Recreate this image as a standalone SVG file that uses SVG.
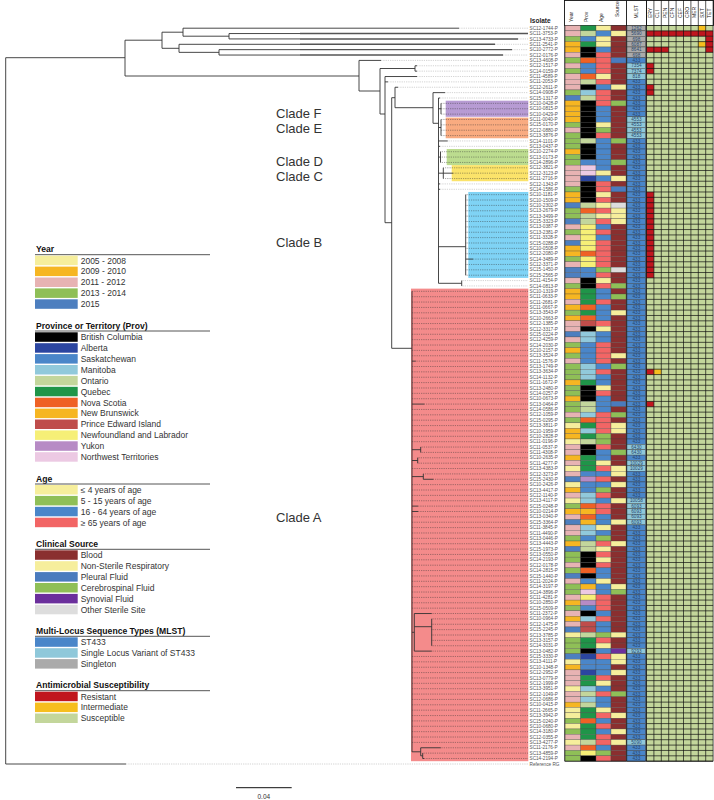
<svg xmlns="http://www.w3.org/2000/svg" xmlns:xlink="http://www.w3.org/1999/xlink" width="714" height="800" viewBox="0 0 714 800">
<style>
.lb{font-family:"Liberation Sans",Arial,sans-serif;font-size:4.7px;fill:#555}
.mt{font-family:"Liberation Sans",Arial,sans-serif;font-size:4.6px;fill:#27456b;text-anchor:middle}
.hd{font-family:"Liberation Sans",Arial,sans-serif;font-size:5px;fill:#222}
.lt{font-family:"Liberation Sans",Arial,sans-serif;font-size:8.6px;font-weight:bold;fill:#111}
.li{font-family:"Liberation Sans",Arial,sans-serif;font-size:8.5px;fill:#333}
.cl{font-family:"Liberation Sans",Arial,sans-serif;font-size:13px;fill:#333}
.t{fill:none;stroke:#333;stroke-width:0.9}
.tk{fill:none;stroke:#555;stroke-width:1.4}
.dg{fill:none;stroke:#999;stroke-width:0.6;stroke-dasharray:0.7 1.1}
.dd{fill:none;stroke:#333;stroke-width:0.6;stroke-dasharray:0.7 1.1}
.ul{fill:none;stroke:#555;stroke-width:1}
.y1{fill:#f6ee9c}.y2{fill:#f6b622}.y3{fill:#e7b3b3}.y4{fill:#8fbf57}.y5{fill:#4d7fbf}
.pBC{fill:#000}.pAB{fill:#2b45a0}.pSK{fill:#4a86c9}.pMB{fill:#91c9db}.pON{fill:#c3d69c}.pQC{fill:#1f9549}.pNS{fill:#ef6125}.pNB{fill:#f6b622}.pPE{fill:#bf4d4b}.pNL{fill:#f6ef77}.pYT{fill:#b78bc5}.pNT{fill:#ecc9e3}
.a1{fill:#f6ee9c}.a2{fill:#8fbf57}.a3{fill:#4a86c9}.a4{fill:#f26565}
.sB{fill:#8a2f2f}.sR{fill:#f6ee9c}.sP{fill:#4a7bbe}.sC{fill:#8fbf57}.sS{fill:#6b2f9c}.sO{fill:#dddddd}
.m1{fill:#4a86c9}.m2{fill:#8fc8da}.m3{fill:#aaaaaa}
.rR{fill:#c0161e}.rI{fill:#f6be1e}.rS{fill:#c3d69b}
</style>
<defs>
<rect id="cY" x="565" y="0" width="15.5" height="5.37" stroke="#444" stroke-width="0.3"/>
<rect id="cP" x="580.5" y="0" width="15.5" height="5.37" stroke="#444" stroke-width="0.3"/>
<rect id="cA" x="596" y="0" width="15" height="5.37" stroke="#444" stroke-width="0.3"/>
<rect id="cS" x="611" y="0" width="15" height="5.37" stroke="#444" stroke-width="0.3"/>
<rect id="cM" x="627" y="0" width="18.8" height="5.37" stroke="#333" stroke-width="0.4"/>
</defs>
<rect width="714" height="800" fill="#fff"/>

<g id="clade-highlights">
<rect x="445.7" y="100.68" width="82.6" height="16.11" fill="#b79bd3"/>
<rect x="445.7" y="117.6" width="82.6" height="20.67" fill="#f9ab80"/>
<rect x="446.7" y="149.01" width="81.6" height="16.11" fill="#bcdc8f"/>
<rect x="451.7" y="165.12" width="76.6" height="16.11" fill="#fbe36a"/>
<rect x="468.3" y="191.97" width="60" height="85.92" fill="#7fd3f5"/>
<rect x="411" y="288.63" width="117.3" height="472.56" fill="#f48b8b"/>
</g>

<g id="clade-labels">
<text class="cl" x="276" y="118">Clade F</text>
<text class="cl" x="276" y="133">Clade E</text>
<text class="cl" x="276" y="166">Clade D</text>
<text class="cl" x="276" y="181">Clade C</text>
<text class="cl" x="276" y="247">Clade B</text>
<text class="cl" x="276" y="521.5">Clade A</text>
</g>

<g id="connectors">
<path class="dg" d="M459 28.19H528M518 38.93H528M495 44.3H528M512 49.67H528M503 55.04H528M381 60.41H528M417 65.78H528M417 71.15H528M417 76.52H528M388 81.89H528M398 87.26H528M445 92.63H528M440 98H528M447.7 140.96H528M440 146.33H528M440 183.92H528M440 189.29H528M461.7 280.58H528M461.7 285.95H528M126 764H528"/>
<path class="dd" d="M441 103.37H528M441 108.74H528M441 114.11H528M441 119.48H528M441 124.85H528M441 130.22H528M441 135.59H528M440.5 151.7H528M440.5 157.07H528M440.5 162.44H528M443.3 167.81H528M453 173.18H528M443.3 178.55H528
M465.7 194.66H528M465.7 200.03H528M465.7 205.4H528M465.7 210.77H528M465.7 216.14H528M465.7 221.51H528M465.7 226.88H528M465.7 232.25H528M465.7 237.62H528M465.7 242.99H528M465.7 248.36H528M465.7 253.73H528M473 259.1H528M465.7 264.47H528M465.7 269.84H528M465.7 275.21H528
M412 291.32H528M412 296.69H528M412 302.06H528M412 307.43H528M412 312.8H528M412 318.17H528M412 323.54H528M412 328.91H528M412 334.28H528M412 339.65H528M412 345.02H528M412 350.39H528M412 355.76H528M415.7 361.13H528M412 366.5H528M412 371.87H528M412 377.24H528M412 382.61H528M412 387.98H528M412 393.35H528M412 398.72H528M424.3 404.09H528M412 409.46H528M412 414.83H528M412 420.2H528M412 425.57H528M412 430.94H528M412 436.31H528M412 441.68H528M420.7 447.05H528M420.7 452.42H528M417.7 457.79H528M417.7 463.16H528M412 468.53H528M423.3 473.9H528M433.3 479.27H528M412 484.64H528M412 490.01H528M412 495.38H528M412 500.75H528M418 506.12H528M418 511.49H528M412 516.86H528M412 522.23H528M412 527.6H528M412 532.97H528M412 538.34H528M412 543.71H528M412 549.08H528M412 554.45H528M412 559.82H528M412 565.19H528M412 570.56H528M412 575.93H528M412 581.3H528M412 586.67H528M412 592.04H528M412 597.41H528M412 602.78H528M412 608.15H528M431.7 613.52H528M431.7 618.89H528M431.7 624.26H528M431.7 629.63H528M431.7 635H528M431.7 640.37H528M431.7 645.74H528M431.7 651.11H528M412 656.48H528M412 661.85H528M412 667.22H528M412 672.59H528M412 677.96H528M412 683.33H528M412 688.7H528M412 694.07H528M412 699.44H528M412 704.81H528M412 710.18H528M412 715.55H528M412 720.92H528M412 726.29H528M412 731.66H528M412 737.03H528M412 742.4H528M440.7 747.77H528M422.7 753.14H528M424 758.51H528"/>
<path class="t" d="M5.7 57.7V764M5.7 57.7H125M5.7 764H126M125 40.2V76M125 40.2H162M125 76H359M162 32.2V48.3M162 32.2H183M162 48.3H179M183 28.19V36.2M183 28.19H459M183 36.2H229M229 33.56V38.93M229 33.56H300M229 38.93H300M179 44.3V52.35M179 44.3H300M179 52.35H219M219 49.67V55.04M219 49.67H300M219 55.04H300"/>
<path class="tk" d="M300 33.56H528M300 38.93H518M300 44.3H495M300 49.67H512M300 55.04H503"/>
<path class="t" d="M359 60.41V91M359 60.41H381M359 91H380M380 68.5V114M380 68.5H415M415 65.78V71.15M415 65.78H417M415 71.15H417M380 114H385M385 76.52V222.7M385 76.52H417M385 81.89H388M385 222.7H391.7M391.7 97.7V348.3M391.7 97.7H395M395 87.26V107.7M395 87.26H398M395 107.7H433M433 92.63V123.3M433 92.63H445M433 123.3H438.5M438.5 98V283.3M438.5 98H440M438.5 108.74H441M441 103.37V114.11M438.5 127.5H441M441 119.48V135.59M438.5 140.96H447.7M438.5 146.33H440M438.5 157.07H440.5M440.5 151.7V162.44M438.5 173.18H443.3M443.3 167.81V178.55M443.3 173.18H453M438.5 183.92H440M438.5 189.29H440M438.5 246.7H465.7M465.7 194.66V275.21M465.7 259.1H473M438.5 283.3H461.7M461.7 280.58V285.95"/>
<path class="t" d="M391.7 348.3H412M412 291.32V751.8M412 361.13H415.7M412 404.09H424.3M412 449.7H420.7M420.7 447.05V452.42M412 460.5H417.7M417.7 457.79V463.16M412 476.6H423.3M423.3 473.9V479.27M423.3 479.27H433.3M412 506.12H418M412 511.49H418M412 632.3H414.3M414.3 613.52V651.11M414.3 613.52H431.7M414.3 626.7H431.7M431.7 618.89V645.74M414.3 651.11H431.7M412 751.8H420.7M420.7 747.77V755.8M420.7 747.77H440.7M420.7 755.8H422.7M422.7 753.14V758.51M422.7 758.51H424"/>
</g>

<g id="header">
<rect x="564.5" y="0.5" width="149" height="25" fill="#fff" stroke="#111" stroke-width="0.9"/>
<path d="M626.5 0.5V25.5M646.5 0.5V25.5" stroke="#111" stroke-width="0.9"/>
<text style="font-family:'Liberation Sans',Arial,sans-serif;font-size:6.5px;font-weight:bold;fill:#222" x="530" y="23">Isolate</text>
<text class="hd" transform="translate(572.5,22) rotate(-90)">Year</text>
<text class="hd" transform="translate(588,22) rotate(-90)">Prov</text>
<text class="hd" transform="translate(603,22) rotate(-90)">Age</text>
<text class="hd" transform="translate(618.5,17) rotate(-90)">Source</text>
<text class="hd" transform="translate(638,18.5) rotate(-90)">MLST</text>
<text class="hd" transform="translate(652,18) rotate(-90)">ERY</text>
<text class="hd" transform="translate(659.4,18) rotate(-90)">CLI</text>
<text class="hd" transform="translate(666.8,18) rotate(-90)">PEN</text>
<text class="hd" transform="translate(674.2,18) rotate(-90)">CFN</text>
<text class="hd" transform="translate(681.6,18) rotate(-90)">CEF</text>
<text class="hd" transform="translate(689,18) rotate(-90)">CRO</text>
<text class="hd" transform="translate(696.4,18) rotate(-90)">MER</text>
<text class="hd" transform="translate(703.8,18) rotate(-90)">SXT</text>
<text class="hd" transform="translate(711.2,18) rotate(-90)">TET</text>
</g>

<g id="amr">
<rect class="rS" x="646.5" y="25.5" width="66.6" height="735.69"/>
<rect class="rI" x="698.3" y="25.5" width="7.4" height="5.37"/>
<rect class="rR" x="646.5" y="30.87" width="66.6" height="5.37"/>
<rect class="rR" x="705.7" y="36.24" width="7.4" height="16.11"/>
<rect class="rI" x="698.3" y="41.61" width="7.4" height="5.37"/>
<rect class="rR" x="646.5" y="46.98" width="22.2" height="5.37"/>
<rect class="rR" x="646.5" y="63.09" width="7.4" height="10.74"/>
<rect class="rR" x="646.5" y="84.57" width="7.4" height="10.74"/>
<rect class="rR" x="646.5" y="191.97" width="7.4" height="85.92"/>
<rect class="rR" x="646.5" y="369.18" width="7.4" height="5.37"/>
<rect class="rI" x="653.9" y="369.18" width="7.4" height="5.37"/>
<rect class="rR" x="646.5" y="401.4" width="7.4" height="5.37"/>
<path fill="none" stroke="#111" stroke-width="0.7" d="M646.5 0V761.19M653.9 0V761.19M661.3 0V761.19M668.7 0V761.19M676.1 0V761.19M683.5 0V761.19M690.9 0V761.19M698.3 0V761.19M705.7 0V761.19M713.1 0V761.19
M646.5 25.5H713.1M646.5 30.87H713.1M646.5 36.24H713.1M646.5 41.61H713.1M646.5 46.98H713.1M646.5 52.35H713.1M646.5 57.72H713.1M646.5 63.09H713.1M646.5 68.46H713.1M646.5 73.83H713.1M646.5 79.2H713.1M646.5 84.57H713.1M646.5 89.94H713.1M646.5 95.31H713.1M646.5 100.68H713.1M646.5 106.05H713.1M646.5 111.42H713.1M646.5 116.79H713.1M646.5 122.16H713.1M646.5 127.53H713.1M646.5 132.9H713.1M646.5 138.27H713.1M646.5 143.64H713.1M646.5 149.01H713.1M646.5 154.38H713.1M646.5 159.75H713.1M646.5 165.12H713.1M646.5 170.49H713.1M646.5 175.86H713.1M646.5 181.23H713.1M646.5 186.6H713.1M646.5 191.97H713.1M646.5 197.34H713.1M646.5 202.71H713.1M646.5 208.08H713.1M646.5 213.45H713.1M646.5 218.82H713.1M646.5 224.19H713.1M646.5 229.56H713.1M646.5 234.93H713.1M646.5 240.3H713.1M646.5 245.67H713.1M646.5 251.04H713.1M646.5 256.41H713.1M646.5 261.78H713.1M646.5 267.15H713.1M646.5 272.52H713.1M646.5 277.89H713.1M646.5 283.26H713.1M646.5 288.63H713.1M646.5 294H713.1M646.5 299.37H713.1M646.5 304.74H713.1M646.5 310.11H713.1M646.5 315.48H713.1M646.5 320.85H713.1M646.5 326.22H713.1M646.5 331.59H713.1M646.5 336.96H713.1M646.5 342.33H713.1M646.5 347.7H713.1M646.5 353.07H713.1M646.5 358.44H713.1M646.5 363.81H713.1M646.5 369.18H713.1M646.5 374.55H713.1M646.5 379.92H713.1M646.5 385.29H713.1M646.5 390.66H713.1M646.5 396.03H713.1M646.5 401.4H713.1M646.5 406.77H713.1M646.5 412.14H713.1M646.5 417.51H713.1M646.5 422.88H713.1M646.5 428.25H713.1M646.5 433.62H713.1M646.5 438.99H713.1M646.5 444.36H713.1M646.5 449.73H713.1M646.5 455.1H713.1M646.5 460.47H713.1M646.5 465.84H713.1M646.5 471.21H713.1M646.5 476.58H713.1M646.5 481.95H713.1M646.5 487.32H713.1M646.5 492.69H713.1M646.5 498.06H713.1M646.5 503.43H713.1M646.5 508.8H713.1M646.5 514.17H713.1M646.5 519.54H713.1M646.5 524.91H713.1M646.5 530.28H713.1M646.5 535.65H713.1M646.5 541.02H713.1M646.5 546.39H713.1M646.5 551.76H713.1M646.5 557.13H713.1M646.5 562.5H713.1M646.5 567.87H713.1M646.5 573.24H713.1M646.5 578.61H713.1M646.5 583.98H713.1M646.5 589.35H713.1M646.5 594.72H713.1M646.5 600.09H713.1M646.5 605.46H713.1M646.5 610.83H713.1M646.5 616.2H713.1M646.5 621.57H713.1M646.5 626.94H713.1M646.5 632.31H713.1M646.5 637.68H713.1M646.5 643.05H713.1M646.5 648.42H713.1M646.5 653.79H713.1M646.5 659.16H713.1M646.5 664.53H713.1M646.5 669.9H713.1M646.5 675.27H713.1M646.5 680.64H713.1M646.5 686.01H713.1M646.5 691.38H713.1M646.5 696.75H713.1M646.5 702.12H713.1M646.5 707.49H713.1M646.5 712.86H713.1M646.5 718.23H713.1M646.5 723.6H713.1M646.5 728.97H713.1M646.5 734.34H713.1M646.5 739.71H713.1M646.5 745.08H713.1M646.5 750.45H713.1M646.5 755.82H713.1M646.5 761.19H713.1"/>
</g>

<g id="isolates">
<g id="SC12-1744-P" transform="translate(0,25.5)"><use href="#cY" class="y3"/><use href="#cP" class="pQC"/><use href="#cA" class="a1"/><use href="#cS" class="sB"/><use href="#cM" class="m3"/><text class="mt" x="636.4" y="4.3">1262</text><text class="lb" x="529.5" y="4.3">SC12-1744-P</text></g>
<g id="SC11-3753-P" transform="translate(0,30.87)"><use href="#cY" class="y3"/><use href="#cP" class="pON"/><use href="#cA" class="a3"/><use href="#cS" class="sR"/><use href="#cM" class="m3"/><text class="mt" x="636.4" y="4.3">5690</text><text class="lb" x="529.5" y="4.3">SC11-3753-P</text></g>
<g id="SC13-4733-P" transform="translate(0,36.24)"><use href="#cY" class="y4"/><use href="#cP" class="pSK"/><use href="#cA" class="a1"/><use href="#cS" class="sB"/><use href="#cM" class="m3"/><text class="mt" x="636.4" y="4.3">698</text><text class="lb" x="529.5" y="4.3">SC13-4733-P</text></g>
<g id="SC11-2541-P" transform="translate(0,41.61)"><use href="#cY" class="y2"/><use href="#cP" class="pQC"/><use href="#cA" class="a1"/><use href="#cS" class="sB"/><use href="#cM" class="m3"/><text class="mt" x="636.4" y="4.3">6087</text><text class="lb" x="529.5" y="4.3">SC11-2541-P</text></g>
<g id="SC10-2772-P" transform="translate(0,46.98)"><use href="#cY" class="y2"/><use href="#cP" class="pBC"/><use href="#cA" class="a3"/><use href="#cS" class="sB"/><use href="#cM" class="m3"/><text class="mt" x="636.4" y="4.3">8641</text><text class="lb" x="529.5" y="4.3">SC10-2772-P</text></g>
<g id="SC12-0176-P" transform="translate(0,52.35)"><use href="#cY" class="y3"/><use href="#cP" class="pBC"/><use href="#cA" class="a4"/><use href="#cS" class="sB"/><use href="#cM" class="m3"/><text class="mt" x="636.4" y="4.3">698</text><text class="lb" x="529.5" y="4.3">SC12-0176-P</text></g>
<g id="SC13-4608-P" transform="translate(0,57.72)"><use href="#cY" class="y4"/><use href="#cP" class="pNS"/><use href="#cA" class="a4"/><use href="#cS" class="sP"/><use href="#cM" class="m1"/><text class="mt" x="636.4" y="4.3">433</text><text class="lb" x="529.5" y="4.3">SC13-4608-P</text></g>
<g id="SC12-1517-P" transform="translate(0,63.09)"><use href="#cY" class="y3"/><use href="#cP" class="pSK"/><use href="#cA" class="a4"/><use href="#cS" class="sB"/><use href="#cM" class="m2"/><text class="mt" x="636.4" y="4.3">7354</text><text class="lb" x="529.5" y="4.3">SC12-1517-P</text></g>
<g id="SC14-0159-P" transform="translate(0,68.46)"><use href="#cY" class="y4"/><use href="#cP" class="pSK"/><use href="#cA" class="a4"/><use href="#cS" class="sB"/><use href="#cM" class="m2"/><text class="mt" x="636.4" y="4.3">7374</text><text class="lb" x="529.5" y="4.3">SC14-0159-P</text></g>
<g id="SC11-4589-P" transform="translate(0,73.83)"><use href="#cY" class="y3"/><use href="#cP" class="pNS"/><use href="#cA" class="a1"/><use href="#cS" class="sB"/><use href="#cM" class="m2"/><text class="mt" x="636.4" y="4.3">818</text><text class="lb" x="529.5" y="4.3">SC11-4589-P</text></g>
<g id="SC11-2053-P" transform="translate(0,79.2)"><use href="#cY" class="y3"/><use href="#cP" class="pON"/><use href="#cA" class="a4"/><use href="#cS" class="sB"/><use href="#cM" class="m1"/><text class="mt" x="636.4" y="4.3">433</text><text class="lb" x="529.5" y="4.3">SC11-2053-P</text></g>
<g id="SC12-2611-P" transform="translate(0,84.57)"><use href="#cY" class="y3"/><use href="#cP" class="pBC"/><use href="#cA" class="a3"/><use href="#cS" class="sR"/><use href="#cM" class="m1"/><text class="mt" x="636.4" y="4.3">433</text><text class="lb" x="529.5" y="4.3">SC12-2611-P</text></g>
<g id="SC14-0908-P" transform="translate(0,89.94)"><use href="#cY" class="y4"/><use href="#cP" class="pMB"/><use href="#cA" class="a4"/><use href="#cS" class="sB"/><use href="#cM" class="m1"/><text class="mt" x="636.4" y="4.3">433</text><text class="lb" x="529.5" y="4.3">SC14-0908-P</text></g>
<g id="SC15-1317-P" transform="translate(0,95.31)"><use href="#cY" class="y5"/><use href="#cP" class="pON"/><use href="#cA" class="a4"/><use href="#cS" class="sB"/><use href="#cM" class="m1"/><text class="mt" x="636.4" y="4.3">433</text><text class="lb" x="529.5" y="4.3">SC15-1317-P</text></g>
<g id="SC10-0428-P" transform="translate(0,100.68)"><use href="#cY" class="y2"/><use href="#cP" class="pBC"/><use href="#cA" class="a4"/><use href="#cS" class="sC"/><use href="#cM" class="m1"/><text class="mt" x="636.4" y="4.3">433</text><text class="lb" x="529.5" y="4.3">SC10-0428-P</text></g>
<g id="SC10-0815-P" transform="translate(0,106.05)"><use href="#cY" class="y2"/><use href="#cP" class="pBC"/><use href="#cA" class="a3"/><use href="#cS" class="sB"/><use href="#cM" class="m1"/><text class="mt" x="636.4" y="4.3">433</text><text class="lb" x="529.5" y="4.3">SC10-0815-P</text></g>
<g id="SC10-0429-P" transform="translate(0,111.42)"><use href="#cY" class="y2"/><use href="#cP" class="pBC"/><use href="#cA" class="a3"/><use href="#cS" class="sB"/><use href="#cM" class="m1"/><text class="mt" x="636.4" y="4.3">433</text><text class="lb" x="529.5" y="4.3">SC10-0429-P</text></g>
<g id="SC11-0040-P" transform="translate(0,116.79)"><use href="#cY" class="y2"/><use href="#cP" class="pBC"/><use href="#cA" class="a3"/><use href="#cS" class="sB"/><use href="#cM" class="m2"/><text class="mt" x="636.4" y="4.3">4553</text><text class="lb" x="529.5" y="4.3">SC11-0040-P</text></g>
<g id="SC15-0170-P" transform="translate(0,122.16)"><use href="#cY" class="y4"/><use href="#cP" class="pBC"/><use href="#cA" class="a1"/><use href="#cS" class="sB"/><use href="#cM" class="m2"/><text class="mt" x="636.4" y="4.3">4553</text><text class="lb" x="529.5" y="4.3">SC15-0170-P</text></g>
<g id="SC12-0880-P" transform="translate(0,127.53)"><use href="#cY" class="y3"/><use href="#cP" class="pBC"/><use href="#cA" class="a2"/><use href="#cS" class="sB"/><use href="#cM" class="m2"/><text class="mt" x="636.4" y="4.3">4553</text><text class="lb" x="529.5" y="4.3">SC12-0880-P</text></g>
<g id="SC13-3876-P" transform="translate(0,132.9)"><use href="#cY" class="y4"/><use href="#cP" class="pBC"/><use href="#cA" class="a4"/><use href="#cS" class="sB"/><use href="#cM" class="m2"/><text class="mt" x="636.4" y="4.3">4553</text><text class="lb" x="529.5" y="4.3">SC13-3876-P</text></g>
<g id="SC14-1101-P" transform="translate(0,138.27)"><use href="#cY" class="y4"/><use href="#cP" class="pON"/><use href="#cA" class="a3"/><use href="#cS" class="sC"/><use href="#cM" class="m1"/><text class="mt" x="636.4" y="4.3">433</text><text class="lb" x="529.5" y="4.3">SC14-1101-P</text></g>
<g id="SC13-0437-P" transform="translate(0,143.64)"><use href="#cY" class="y4"/><use href="#cP" class="pBC"/><use href="#cA" class="a3"/><use href="#cS" class="sB"/><use href="#cM" class="m1"/><text class="mt" x="636.4" y="4.3">433</text><text class="lb" x="529.5" y="4.3">SC13-0437-P</text></g>
<g id="SC10-2274-P" transform="translate(0,149.01)"><use href="#cY" class="y2"/><use href="#cP" class="pBC"/><use href="#cA" class="a3"/><use href="#cS" class="sB"/><use href="#cM" class="m1"/><text class="mt" x="636.4" y="4.3">433</text><text class="lb" x="529.5" y="4.3">SC10-2274-P</text></g>
<g id="SC13-0173-P" transform="translate(0,154.38)"><use href="#cY" class="y4"/><use href="#cP" class="pBC"/><use href="#cA" class="a3"/><use href="#cS" class="sB"/><use href="#cM" class="m1"/><text class="mt" x="636.4" y="4.3">433</text><text class="lb" x="529.5" y="4.3">SC13-0173-P</text></g>
<g id="SC14-2896-P" transform="translate(0,159.75)"><use href="#cY" class="y4"/><use href="#cP" class="pSK"/><use href="#cA" class="a3"/><use href="#cS" class="sC"/><use href="#cM" class="m1"/><text class="mt" x="636.4" y="4.3">433</text><text class="lb" x="529.5" y="4.3">SC14-2896-P</text></g>
<g id="SC12-3821-P" transform="translate(0,165.12)"><use href="#cY" class="y3"/><use href="#cP" class="pNT"/><use href="#cA" class="a3"/><use href="#cS" class="sB"/><use href="#cM" class="m1"/><text class="mt" x="636.4" y="4.3">433</text><text class="lb" x="529.5" y="4.3">SC12-3821-P</text></g>
<g id="SC12-3123-P" transform="translate(0,170.49)"><use href="#cY" class="y3"/><use href="#cP" class="pNT"/><use href="#cA" class="a1"/><use href="#cS" class="sB"/><use href="#cM" class="m1"/><text class="mt" x="636.4" y="4.3">433</text><text class="lb" x="529.5" y="4.3">SC12-3123-P</text></g>
<g id="SC11-2716-P" transform="translate(0,175.86)"><use href="#cY" class="y3"/><use href="#cP" class="pAB"/><use href="#cA" class="a3"/><use href="#cS" class="sR"/><use href="#cM" class="m1"/><text class="mt" x="636.4" y="4.3">433</text><text class="lb" x="529.5" y="4.3">SC11-2716-P</text></g>
<g id="SC12-1343-P" transform="translate(0,181.23)"><use href="#cY" class="y3"/><use href="#cP" class="pBC"/><use href="#cA" class="a4"/><use href="#cS" class="sB"/><use href="#cM" class="m1"/><text class="mt" x="636.4" y="4.3">433</text><text class="lb" x="529.5" y="4.3">SC12-1343-P</text></g>
<g id="SC14-1586-P" transform="translate(0,186.6)"><use href="#cY" class="y4"/><use href="#cP" class="pBC"/><use href="#cA" class="a4"/><use href="#cS" class="sP"/><use href="#cM" class="m1"/><text class="mt" x="636.4" y="4.3">433</text><text class="lb" x="529.5" y="4.3">SC14-1586-P</text></g>
<g id="SC10-1181-P" transform="translate(0,191.97)"><use href="#cY" class="y2"/><use href="#cP" class="pBC"/><use href="#cA" class="a1"/><use href="#cS" class="sB"/><use href="#cM" class="m1"/><text class="mt" x="636.4" y="4.3">433</text><text class="lb" x="529.5" y="4.3">SC10-1181-P</text></g>
<g id="SC10-1509-P" transform="translate(0,197.34)"><use href="#cY" class="y2"/><use href="#cP" class="pBC"/><use href="#cA" class="a4"/><use href="#cS" class="sB"/><use href="#cM" class="m1"/><text class="mt" x="636.4" y="4.3">433</text><text class="lb" x="529.5" y="4.3">SC10-1509-P</text></g>
<g id="SC10-2302-P" transform="translate(0,202.71)"><use href="#cY" class="y5"/><use href="#cP" class="pON"/><use href="#cA" class="a1"/><use href="#cS" class="sO"/><use href="#cM" class="m1"/><text class="mt" x="636.4" y="4.3">433</text><text class="lb" x="529.5" y="4.3">SC10-2302-P</text></g>
<g id="SC13-2679-P" transform="translate(0,208.08)"><use href="#cY" class="y4"/><use href="#cP" class="pNS"/><use href="#cA" class="a4"/><use href="#cS" class="sR"/><use href="#cM" class="m1"/><text class="mt" x="636.4" y="4.3">433</text><text class="lb" x="529.5" y="4.3">SC13-2679-P</text></g>
<g id="SC13-3499-P" transform="translate(0,213.45)"><use href="#cY" class="y4"/><use href="#cP" class="pON"/><use href="#cA" class="a1"/><use href="#cS" class="sR"/><use href="#cM" class="m1"/><text class="mt" x="636.4" y="4.3">433</text><text class="lb" x="529.5" y="4.3">SC13-3499-P</text></g>
<g id="SC15-3323-P" transform="translate(0,218.82)"><use href="#cY" class="y5"/><use href="#cP" class="pON"/><use href="#cA" class="a4"/><use href="#cS" class="sR"/><use href="#cM" class="m1"/><text class="mt" x="636.4" y="4.3">433</text><text class="lb" x="529.5" y="4.3">SC15-3323-P</text></g>
<g id="SC13-0387-P" transform="translate(0,224.19)"><use href="#cY" class="y3"/><use href="#cP" class="pNL"/><use href="#cA" class="a3"/><use href="#cS" class="sB"/><use href="#cM" class="m1"/><text class="mt" x="636.4" y="4.3">433</text><text class="lb" x="529.5" y="4.3">SC13-0387-P</text></g>
<g id="SC13-2381-P" transform="translate(0,229.56)"><use href="#cY" class="y4"/><use href="#cP" class="pNL"/><use href="#cA" class="a4"/><use href="#cS" class="sB"/><use href="#cM" class="m1"/><text class="mt" x="636.4" y="4.3">433</text><text class="lb" x="529.5" y="4.3">SC13-2381-P</text></g>
<g id="SC11-3328-P" transform="translate(0,234.93)"><use href="#cY" class="y3"/><use href="#cP" class="pNL"/><use href="#cA" class="a3"/><use href="#cS" class="sB"/><use href="#cM" class="m1"/><text class="mt" x="636.4" y="4.3">433</text><text class="lb" x="529.5" y="4.3">SC11-3328-P</text></g>
<g id="SC15-0288-P" transform="translate(0,240.3)"><use href="#cY" class="y5"/><use href="#cP" class="pNL"/><use href="#cA" class="a4"/><use href="#cS" class="sB"/><use href="#cM" class="m1"/><text class="mt" x="636.4" y="4.3">433</text><text class="lb" x="529.5" y="4.3">SC15-0288-P</text></g>
<g id="SC10-0508-P" transform="translate(0,245.67)"><use href="#cY" class="y2"/><use href="#cP" class="pNL"/><use href="#cA" class="a4"/><use href="#cS" class="sB"/><use href="#cM" class="m1"/><text class="mt" x="636.4" y="4.3">433</text><text class="lb" x="529.5" y="4.3">SC10-0508-P</text></g>
<g id="SC12-2080-P" transform="translate(0,251.04)"><use href="#cY" class="y2"/><use href="#cP" class="pNS"/><use href="#cA" class="a4"/><use href="#cS" class="sB"/><use href="#cM" class="m1"/><text class="mt" x="636.4" y="4.3">433</text><text class="lb" x="529.5" y="4.3">SC12-2080-P</text></g>
<g id="SC14-3489-P" transform="translate(0,256.41)"><use href="#cY" class="y4"/><use href="#cP" class="pNL"/><use href="#cA" class="a4"/><use href="#cS" class="sB"/><use href="#cM" class="m1"/><text class="mt" x="636.4" y="4.3">433</text><text class="lb" x="529.5" y="4.3">SC14-3489-P</text></g>
<g id="SC12-3371-P" transform="translate(0,261.78)"><use href="#cY" class="y3"/><use href="#cP" class="pNL"/><use href="#cA" class="a4"/><use href="#cS" class="sB"/><use href="#cM" class="m1"/><text class="mt" x="636.4" y="4.3">433</text><text class="lb" x="529.5" y="4.3">SC12-3371-P</text></g>
<g id="SC15-1450-P" transform="translate(0,267.15)"><use href="#cY" class="y5"/><use href="#cP" class="pSK"/><use href="#cA" class="a2"/><use href="#cS" class="sO"/><use href="#cM" class="m1"/><text class="mt" x="636.4" y="4.3">433</text><text class="lb" x="529.5" y="4.3">SC15-1450-P</text></g>
<g id="SC15-2565-P" transform="translate(0,272.52)"><use href="#cY" class="y5"/><use href="#cP" class="pSK"/><use href="#cA" class="a4"/><use href="#cS" class="sB"/><use href="#cM" class="m1"/><text class="mt" x="636.4" y="4.3">433</text><text class="lb" x="529.5" y="4.3">SC15-2565-P</text></g>
<g id="SC11-4154-P" transform="translate(0,277.89)"><use href="#cY" class="y3"/><use href="#cP" class="pBC"/><use href="#cA" class="a1"/><use href="#cS" class="sB"/><use href="#cM" class="m1"/><text class="mt" x="636.4" y="4.3">433</text><text class="lb" x="529.5" y="4.3">SC11-4154-P</text></g>
<g id="SC14-0813-P" transform="translate(0,283.26)"><use href="#cY" class="y4"/><use href="#cP" class="pBC"/><use href="#cA" class="a4"/><use href="#cS" class="sC"/><use href="#cM" class="m1"/><text class="mt" x="636.4" y="4.3">433</text><text class="lb" x="529.5" y="4.3">SC14-0813-P</text></g>
<g id="SC10-1319-P" transform="translate(0,288.63)"><use href="#cY" class="y2"/><use href="#cP" class="pQC"/><use href="#cA" class="a3"/><use href="#cS" class="sB"/><use href="#cM" class="m1"/><text class="mt" x="636.4" y="4.3">433</text><text class="lb" x="529.5" y="4.3">SC10-1319-P</text></g>
<g id="SC11-0633-P" transform="translate(0,294)"><use href="#cY" class="y2"/><use href="#cP" class="pQC"/><use href="#cA" class="a3"/><use href="#cS" class="sC"/><use href="#cM" class="m1"/><text class="mt" x="636.4" y="4.3">433</text><text class="lb" x="529.5" y="4.3">SC11-0633-P</text></g>
<g id="SC11-2681-P" transform="translate(0,299.37)"><use href="#cY" class="y3"/><use href="#cP" class="pQC"/><use href="#cA" class="a4"/><use href="#cS" class="sB"/><use href="#cM" class="m1"/><text class="mt" x="636.4" y="4.3">433</text><text class="lb" x="529.5" y="4.3">SC11-2681-P</text></g>
<g id="SC11-0667-P" transform="translate(0,304.74)"><use href="#cY" class="y2"/><use href="#cP" class="pNS"/><use href="#cA" class="a3"/><use href="#cS" class="sB"/><use href="#cM" class="m1"/><text class="mt" x="636.4" y="4.3">433</text><text class="lb" x="529.5" y="4.3">SC11-0667-P</text></g>
<g id="SC13-3543-P" transform="translate(0,310.11)"><use href="#cY" class="y4"/><use href="#cP" class="pQC"/><use href="#cA" class="a3"/><use href="#cS" class="sR"/><use href="#cM" class="m1"/><text class="mt" x="636.4" y="4.3">433</text><text class="lb" x="529.5" y="4.3">SC13-3543-P</text></g>
<g id="SC10-2663-P" transform="translate(0,315.48)"><use href="#cY" class="y2"/><use href="#cP" class="pNS"/><use href="#cA" class="a3"/><use href="#cS" class="sB"/><use href="#cM" class="m1"/><text class="mt" x="636.4" y="4.3">433</text><text class="lb" x="529.5" y="4.3">SC10-2663-P</text></g>
<g id="SC12-1385-P" transform="translate(0,320.85)"><use href="#cY" class="y3"/><use href="#cP" class="pPE"/><use href="#cA" class="a4"/><use href="#cS" class="sB"/><use href="#cM" class="m1"/><text class="mt" x="636.4" y="4.3">433</text><text class="lb" x="529.5" y="4.3">SC12-1385-P</text></g>
<g id="SC12-3317-P" transform="translate(0,326.22)"><use href="#cY" class="y3"/><use href="#cP" class="pBC"/><use href="#cA" class="a1"/><use href="#cS" class="sB"/><use href="#cM" class="m1"/><text class="mt" x="636.4" y="4.3">433</text><text class="lb" x="529.5" y="4.3">SC12-3317-P</text></g>
<g id="SC15-0224-P" transform="translate(0,331.59)"><use href="#cY" class="y5"/><use href="#cP" class="pMB"/><use href="#cA" class="a3"/><use href="#cS" class="sB"/><use href="#cM" class="m1"/><text class="mt" x="636.4" y="4.3">433</text><text class="lb" x="529.5" y="4.3">SC15-0224-P</text></g>
<g id="SC12-4259-P" transform="translate(0,336.96)"><use href="#cY" class="y3"/><use href="#cP" class="pMB"/><use href="#cA" class="a3"/><use href="#cS" class="sB"/><use href="#cM" class="m1"/><text class="mt" x="636.4" y="4.3">433</text><text class="lb" x="529.5" y="4.3">SC12-4259-P</text></g>
<g id="SC14-2030-P" transform="translate(0,342.33)"><use href="#cY" class="y4"/><use href="#cP" class="pSK"/><use href="#cA" class="a4"/><use href="#cS" class="sB"/><use href="#cM" class="m1"/><text class="mt" x="636.4" y="4.3">433</text><text class="lb" x="529.5" y="4.3">SC14-2030-P</text></g>
<g id="SC10-2157-P" transform="translate(0,347.7)"><use href="#cY" class="y2"/><use href="#cP" class="pSK"/><use href="#cA" class="a4"/><use href="#cS" class="sB"/><use href="#cM" class="m1"/><text class="mt" x="636.4" y="4.3">433</text><text class="lb" x="529.5" y="4.3">SC10-2157-P</text></g>
<g id="SC13-3524-P" transform="translate(0,353.07)"><use href="#cY" class="y4"/><use href="#cP" class="pSK"/><use href="#cA" class="a4"/><use href="#cS" class="sR"/><use href="#cM" class="m1"/><text class="mt" x="636.4" y="4.3">433</text><text class="lb" x="529.5" y="4.3">SC13-3524-P</text></g>
<g id="SC11-1576-P" transform="translate(0,358.44)"><use href="#cY" class="y3"/><use href="#cP" class="pSK"/><use href="#cA" class="a4"/><use href="#cS" class="sB"/><use href="#cM" class="m1"/><text class="mt" x="636.4" y="4.3">433</text><text class="lb" x="529.5" y="4.3">SC11-1576-P</text></g>
<g id="SC13-1749-P" transform="translate(0,363.81)"><use href="#cY" class="y4"/><use href="#cP" class="pMB"/><use href="#cA" class="a3"/><use href="#cS" class="sC"/><use href="#cM" class="m1"/><text class="mt" x="636.4" y="4.3">433</text><text class="lb" x="529.5" y="4.3">SC13-1749-P</text></g>
<g id="SC13-3634-P" transform="translate(0,369.18)"><use href="#cY" class="y4"/><use href="#cP" class="pMB"/><use href="#cA" class="a4"/><use href="#cS" class="sB"/><use href="#cM" class="m1"/><text class="mt" x="636.4" y="4.3">433</text><text class="lb" x="529.5" y="4.3">SC13-3634-P</text></g>
<g id="SC14-1132-P" transform="translate(0,374.55)"><use href="#cY" class="y4"/><use href="#cP" class="pMB"/><use href="#cA" class="a3"/><use href="#cS" class="sB"/><use href="#cM" class="m1"/><text class="mt" x="636.4" y="4.3">433</text><text class="lb" x="529.5" y="4.3">SC14-1132-P</text></g>
<g id="SC11-1672-P" transform="translate(0,379.92)"><use href="#cY" class="y2"/><use href="#cP" class="pQC"/><use href="#cA" class="a3"/><use href="#cS" class="sB"/><use href="#cM" class="m1"/><text class="mt" x="636.4" y="4.3">433</text><text class="lb" x="529.5" y="4.3">SC11-1672-P</text></g>
<g id="SC13-2480-P" transform="translate(0,385.29)"><use href="#cY" class="y4"/><use href="#cP" class="pBC"/><use href="#cA" class="a1"/><use href="#cS" class="sB"/><use href="#cM" class="m1"/><text class="mt" x="636.4" y="4.3">433</text><text class="lb" x="529.5" y="4.3">SC13-2480-P</text></g>
<g id="SC14-0257-P" transform="translate(0,390.66)"><use href="#cY" class="y4"/><use href="#cP" class="pBC"/><use href="#cA" class="a4"/><use href="#cS" class="sB"/><use href="#cM" class="m1"/><text class="mt" x="636.4" y="4.3">433</text><text class="lb" x="529.5" y="4.3">SC14-0257-P</text></g>
<g id="SC10-0673-P" transform="translate(0,396.03)"><use href="#cY" class="y2"/><use href="#cP" class="pBC"/><use href="#cA" class="a3"/><use href="#cS" class="sB"/><use href="#cM" class="m1"/><text class="mt" x="636.4" y="4.3">433</text><text class="lb" x="529.5" y="4.3">SC10-0673-P</text></g>
<g id="SC13-0464-P" transform="translate(0,401.4)"><use href="#cY" class="y4"/><use href="#cP" class="pON"/><use href="#cA" class="a3"/><use href="#cS" class="sP"/><use href="#cM" class="m1"/><text class="mt" x="636.4" y="4.3">433</text><text class="lb" x="529.5" y="4.3">SC13-0464-P</text></g>
<g id="SC14-0586-P" transform="translate(0,406.77)"><use href="#cY" class="y4"/><use href="#cP" class="pON"/><use href="#cA" class="a3"/><use href="#cS" class="sB"/><use href="#cM" class="m1"/><text class="mt" x="636.4" y="4.3">433</text><text class="lb" x="529.5" y="4.3">SC14-0586-P</text></g>
<g id="SC12-1059-P" transform="translate(0,412.14)"><use href="#cY" class="y3"/><use href="#cP" class="pMB"/><use href="#cA" class="a4"/><use href="#cS" class="sC"/><use href="#cM" class="m1"/><text class="mt" x="636.4" y="4.3">433</text><text class="lb" x="529.5" y="4.3">SC12-1059-P</text></g>
<g id="SC15-0295-P" transform="translate(0,417.51)"><use href="#cY" class="y4"/><use href="#cP" class="pNS"/><use href="#cA" class="a4"/><use href="#cS" class="sB"/><use href="#cM" class="m1"/><text class="mt" x="636.4" y="4.3">433</text><text class="lb" x="529.5" y="4.3">SC15-0295-P</text></g>
<g id="SC13-3811-P" transform="translate(0,422.88)"><use href="#cY" class="y1"/><use href="#cP" class="pQC"/><use href="#cA" class="a4"/><use href="#cS" class="sR"/><use href="#cM" class="m1"/><text class="mt" x="636.4" y="4.3">433</text><text class="lb" x="529.5" y="4.3">SC13-3811-P</text></g>
<g id="SC10-1959-P" transform="translate(0,428.25)"><use href="#cY" class="y2"/><use href="#cP" class="pMB"/><use href="#cA" class="a4"/><use href="#cS" class="sR"/><use href="#cM" class="m1"/><text class="mt" x="636.4" y="4.3">433</text><text class="lb" x="529.5" y="4.3">SC10-1959-P</text></g>
<g id="SC10-2828-P" transform="translate(0,433.62)"><use href="#cY" class="y2"/><use href="#cP" class="pQC"/><use href="#cA" class="a2"/><use href="#cS" class="sB"/><use href="#cM" class="m1"/><text class="mt" x="636.4" y="4.3">433</text><text class="lb" x="529.5" y="4.3">SC10-2828-P</text></g>
<g id="SC11-0196-P" transform="translate(0,438.99)"><use href="#cY" class="y1"/><use href="#cP" class="pON"/><use href="#cA" class="a2"/><use href="#cS" class="sB"/><use href="#cM" class="m1"/><text class="mt" x="636.4" y="4.3">433</text><text class="lb" x="529.5" y="4.3">SC11-0196-P</text></g>
<g id="SC11-0537-P" transform="translate(0,444.36)"><use href="#cY" class="y3"/><use href="#cP" class="pBC"/><use href="#cA" class="a4"/><use href="#cS" class="sB"/><use href="#cM" class="m2"/><text class="mt" x="636.4" y="4.3">6430</text><text class="lb" x="529.5" y="4.3">SC11-0537-P</text></g>
<g id="SC11-4308-P" transform="translate(0,449.73)"><use href="#cY" class="y3"/><use href="#cP" class="pBC"/><use href="#cA" class="a3"/><use href="#cS" class="sC"/><use href="#cM" class="m2"/><text class="mt" x="636.4" y="4.3">6430</text><text class="lb" x="529.5" y="4.3">SC11-4308-P</text></g>
<g id="SC10-2635-P" transform="translate(0,455.1)"><use href="#cY" class="y2"/><use href="#cP" class="pQC"/><use href="#cA" class="a3"/><use href="#cS" class="sB"/><use href="#cM" class="m1"/><text class="mt" x="636.4" y="4.3">433</text><text class="lb" x="529.5" y="4.3">SC10-2635-P</text></g>
<g id="SC11-4277-P" transform="translate(0,460.47)"><use href="#cY" class="y3"/><use href="#cP" class="pQC"/><use href="#cA" class="a1"/><use href="#cS" class="sB"/><use href="#cM" class="m2"/><text class="mt" x="636.4" y="4.3">10029</text><text class="lb" x="529.5" y="4.3">SC11-4277-P</text></g>
<g id="SC13-4383-P" transform="translate(0,465.84)"><use href="#cY" class="y1"/><use href="#cP" class="pQC"/><use href="#cA" class="a4"/><use href="#cS" class="sR"/><use href="#cM" class="m2"/><text class="mt" x="636.4" y="4.3">10029</text><text class="lb" x="529.5" y="4.3">SC13-4383-P</text></g>
<g id="SC12-3273-P" transform="translate(0,471.21)"><use href="#cY" class="y3"/><use href="#cP" class="pSK"/><use href="#cA" class="a3"/><use href="#cS" class="sR"/><use href="#cM" class="m1"/><text class="mt" x="636.4" y="4.3">433</text><text class="lb" x="529.5" y="4.3">SC12-3273-P</text></g>
<g id="SC15-2430-P" transform="translate(0,476.58)"><use href="#cY" class="y5"/><use href="#cP" class="pYT"/><use href="#cA" class="a4"/><use href="#cS" class="sB"/><use href="#cM" class="m1"/><text class="mt" x="636.4" y="4.3">433</text><text class="lb" x="529.5" y="4.3">SC15-2430-P</text></g>
<g id="SC10-2426-P" transform="translate(0,481.95)"><use href="#cY" class="y1"/><use href="#cP" class="pSK"/><use href="#cA" class="a3"/><use href="#cS" class="sR"/><use href="#cM" class="m1"/><text class="mt" x="636.4" y="4.3">433</text><text class="lb" x="529.5" y="4.3">SC10-2426-P</text></g>
<g id="SC13-4417-P" transform="translate(0,487.32)"><use href="#cY" class="y2"/><use href="#cP" class="pSK"/><use href="#cA" class="a2"/><use href="#cS" class="sB"/><use href="#cM" class="m1"/><text class="mt" x="636.4" y="4.3">433</text><text class="lb" x="529.5" y="4.3">SC13-4417-P</text></g>
<g id="SC12-1140-P" transform="translate(0,492.69)"><use href="#cY" class="y3"/><use href="#cP" class="pMB"/><use href="#cA" class="a4"/><use href="#cS" class="sB"/><use href="#cM" class="m1"/><text class="mt" x="636.4" y="4.3">433</text><text class="lb" x="529.5" y="4.3">SC12-1140-P</text></g>
<g id="SC13-4117-P" transform="translate(0,498.06)"><use href="#cY" class="y1"/><use href="#cP" class="pMB"/><use href="#cA" class="a3"/><use href="#cS" class="sR"/><use href="#cM" class="m2"/><text class="mt" x="636.4" y="4.3">10058</text><text class="lb" x="529.5" y="4.3">SC13-4117-P</text></g>
<g id="SC15-0248-P" transform="translate(0,503.43)"><use href="#cY" class="y4"/><use href="#cP" class="pNS"/><use href="#cA" class="a4"/><use href="#cS" class="sB"/><use href="#cM" class="m2"/><text class="mt" x="636.4" y="4.3">6093</text><text class="lb" x="529.5" y="4.3">SC15-0248-P</text></g>
<g id="SC10-0214-P" transform="translate(0,508.8)"><use href="#cY" class="y2"/><use href="#cP" class="pNB"/><use href="#cA" class="a4"/><use href="#cS" class="sB"/><use href="#cM" class="m2"/><text class="mt" x="636.4" y="4.3">6093</text><text class="lb" x="529.5" y="4.3">SC10-0214-P</text></g>
<g id="SC13-0340-P" transform="translate(0,514.17)"><use href="#cY" class="y3"/><use href="#cP" class="pNS"/><use href="#cA" class="a3"/><use href="#cS" class="sB"/><use href="#cM" class="m2"/><text class="mt" x="636.4" y="4.3">6093</text><text class="lb" x="529.5" y="4.3">SC13-0340-P</text></g>
<g id="SC15-3364-P" transform="translate(0,519.54)"><use href="#cY" class="y5"/><use href="#cP" class="pNB"/><use href="#cA" class="a3"/><use href="#cS" class="sR"/><use href="#cM" class="m2"/><text class="mt" x="636.4" y="4.3">6093</text><text class="lb" x="529.5" y="4.3">SC15-3364-P</text></g>
<g id="SC11-3845-P" transform="translate(0,524.91)"><use href="#cY" class="y3"/><use href="#cP" class="pMB"/><use href="#cA" class="a1"/><use href="#cS" class="sB"/><use href="#cM" class="m1"/><text class="mt" x="636.4" y="4.3">433</text><text class="lb" x="529.5" y="4.3">SC11-3845-P</text></g>
<g id="SC11-4490-P" transform="translate(0,530.28)"><use href="#cY" class="y3"/><use href="#cP" class="pMB"/><use href="#cA" class="a3"/><use href="#cS" class="sB"/><use href="#cM" class="m1"/><text class="mt" x="636.4" y="4.3">433</text><text class="lb" x="529.5" y="4.3">SC11-4490-P</text></g>
<g id="SC13-0446-P" transform="translate(0,535.65)"><use href="#cY" class="y4"/><use href="#cP" class="pSK"/><use href="#cA" class="a2"/><use href="#cS" class="sB"/><use href="#cM" class="m1"/><text class="mt" x="636.4" y="4.3">433</text><text class="lb" x="529.5" y="4.3">SC13-0446-P</text></g>
<g id="SC13-4443-P" transform="translate(0,541.02)"><use href="#cY" class="y2"/><use href="#cP" class="pON"/><use href="#cA" class="a4"/><use href="#cS" class="sR"/><use href="#cM" class="m1"/><text class="mt" x="636.4" y="4.3">433</text><text class="lb" x="529.5" y="4.3">SC13-4443-P</text></g>
<g id="SC15-1973-P" transform="translate(0,546.39)"><use href="#cY" class="y5"/><use href="#cP" class="pON"/><use href="#cA" class="a1"/><use href="#cS" class="sB"/><use href="#cM" class="m1"/><text class="mt" x="636.4" y="4.3">433</text><text class="lb" x="529.5" y="4.3">SC15-1973-P</text></g>
<g id="SC13-0550-P" transform="translate(0,551.76)"><use href="#cY" class="y4"/><use href="#cP" class="pBC"/><use href="#cA" class="a4"/><use href="#cS" class="sB"/><use href="#cM" class="m1"/><text class="mt" x="636.4" y="4.3">433</text><text class="lb" x="529.5" y="4.3">SC13-0550-P</text></g>
<g id="SC14-2193-P" transform="translate(0,557.13)"><use href="#cY" class="y4"/><use href="#cP" class="pBC"/><use href="#cA" class="a1"/><use href="#cS" class="sB"/><use href="#cM" class="m1"/><text class="mt" x="636.4" y="4.3">433</text><text class="lb" x="529.5" y="4.3">SC14-2193-P</text></g>
<g id="SC12-0178-P" transform="translate(0,562.5)"><use href="#cY" class="y3"/><use href="#cP" class="pBC"/><use href="#cA" class="a4"/><use href="#cS" class="sB"/><use href="#cM" class="m1"/><text class="mt" x="636.4" y="4.3">433</text><text class="lb" x="529.5" y="4.3">SC12-0178-P</text></g>
<g id="SC14-2815-P" transform="translate(0,567.87)"><use href="#cY" class="y4"/><use href="#cP" class="pNS"/><use href="#cA" class="a3"/><use href="#cS" class="sB"/><use href="#cM" class="m1"/><text class="mt" x="636.4" y="4.3">433</text><text class="lb" x="529.5" y="4.3">SC14-2815-P</text></g>
<g id="SC15-1440-P" transform="translate(0,573.24)"><use href="#cY" class="y5"/><use href="#cP" class="pBC"/><use href="#cA" class="a3"/><use href="#cS" class="sB"/><use href="#cM" class="m1"/><text class="mt" x="636.4" y="4.3">433</text><text class="lb" x="529.5" y="4.3">SC15-1440-P</text></g>
<g id="SC11-2024-P" transform="translate(0,578.61)"><use href="#cY" class="y3"/><use href="#cP" class="pSK"/><use href="#cA" class="a1"/><use href="#cS" class="sB"/><use href="#cM" class="m1"/><text class="mt" x="636.4" y="4.3">433</text><text class="lb" x="529.5" y="4.3">SC11-2024-P</text></g>
<g id="SC14-3197-P" transform="translate(0,583.98)"><use href="#cY" class="y4"/><use href="#cP" class="pNB"/><use href="#cA" class="a3"/><use href="#cS" class="sR"/><use href="#cM" class="m1"/><text class="mt" x="636.4" y="4.3">433</text><text class="lb" x="529.5" y="4.3">SC14-3197-P</text></g>
<g id="SC14-3896-P" transform="translate(0,589.35)"><use href="#cY" class="y4"/><use href="#cP" class="pNT"/><use href="#cA" class="a3"/><use href="#cS" class="sC"/><use href="#cM" class="m1"/><text class="mt" x="636.4" y="4.3">433</text><text class="lb" x="529.5" y="4.3">SC14-3896-P</text></g>
<g id="SC11-4281-P" transform="translate(0,594.72)"><use href="#cY" class="y3"/><use href="#cP" class="pNL"/><use href="#cA" class="a4"/><use href="#cS" class="sB"/><use href="#cM" class="m1"/><text class="mt" x="636.4" y="4.3">433</text><text class="lb" x="529.5" y="4.3">SC11-4281-P</text></g>
<g id="SC10-2850-P" transform="translate(0,600.09)"><use href="#cY" class="y2"/><use href="#cP" class="pYT"/><use href="#cA" class="a4"/><use href="#cS" class="sB"/><use href="#cM" class="m1"/><text class="mt" x="636.4" y="4.3">433</text><text class="lb" x="529.5" y="4.3">SC10-2850-P</text></g>
<g id="SC15-0509-P" transform="translate(0,605.46)"><use href="#cY" class="y4"/><use href="#cP" class="pSK"/><use href="#cA" class="a4"/><use href="#cS" class="sB"/><use href="#cM" class="m1"/><text class="mt" x="636.4" y="4.3">433</text><text class="lb" x="529.5" y="4.3">SC15-0509-P</text></g>
<g id="SC11-2372-P" transform="translate(0,610.83)"><use href="#cY" class="y3"/><use href="#cP" class="pBC"/><use href="#cA" class="a3"/><use href="#cS" class="sB"/><use href="#cM" class="m1"/><text class="mt" x="636.4" y="4.3">433</text><text class="lb" x="529.5" y="4.3">SC11-2372-P</text></g>
<g id="SC10-0964-P" transform="translate(0,616.2)"><use href="#cY" class="y2"/><use href="#cP" class="pMB"/><use href="#cA" class="a4"/><use href="#cS" class="sB"/><use href="#cM" class="m1"/><text class="mt" x="636.4" y="4.3">433</text><text class="lb" x="529.5" y="4.3">SC10-0964-P</text></g>
<g id="SC12-1475-P" transform="translate(0,621.57)"><use href="#cY" class="y3"/><use href="#cP" class="pPE"/><use href="#cA" class="a3"/><use href="#cS" class="sB"/><use href="#cM" class="m1"/><text class="mt" x="636.4" y="4.3">433</text><text class="lb" x="529.5" y="4.3">SC12-1475-P</text></g>
<g id="SC15-2245-P" transform="translate(0,626.94)"><use href="#cY" class="y5"/><use href="#cP" class="pPE"/><use href="#cA" class="a3"/><use href="#cS" class="sB"/><use href="#cM" class="m1"/><text class="mt" x="636.4" y="4.3">433</text><text class="lb" x="529.5" y="4.3">SC15-2245-P</text></g>
<g id="SC13-3785-P" transform="translate(0,632.31)"><use href="#cY" class="y1"/><use href="#cP" class="pON"/><use href="#cA" class="a2"/><use href="#cS" class="sR"/><use href="#cM" class="m1"/><text class="mt" x="636.4" y="4.3">433</text><text class="lb" x="529.5" y="4.3">SC13-3785-P</text></g>
<g id="SC13-3157-P" transform="translate(0,637.68)"><use href="#cY" class="y4"/><use href="#cP" class="pQC"/><use href="#cA" class="a4"/><use href="#cS" class="sB"/><use href="#cM" class="m1"/><text class="mt" x="636.4" y="4.3">433</text><text class="lb" x="529.5" y="4.3">SC13-3157-P</text></g>
<g id="SC14-3031-P" transform="translate(0,643.05)"><use href="#cY" class="y4"/><use href="#cP" class="pQC"/><use href="#cA" class="a1"/><use href="#cS" class="sB"/><use href="#cM" class="m1"/><text class="mt" x="636.4" y="4.3">433</text><text class="lb" x="529.5" y="4.3">SC14-3031-P</text></g>
<g id="SC13-0482-P" transform="translate(0,648.42)"><use href="#cY" class="y4"/><use href="#cP" class="pBC"/><use href="#cA" class="a3"/><use href="#cS" class="sS"/><use href="#cM" class="m2"/><text class="mt" x="636.4" y="4.3">9293</text><text class="lb" x="529.5" y="4.3">SC13-0482-P</text></g>
<g id="SC15-3330-P" transform="translate(0,653.79)"><use href="#cY" class="y5"/><use href="#cP" class="pAB"/><use href="#cA" class="a4"/><use href="#cS" class="sR"/><use href="#cM" class="m1"/><text class="mt" x="636.4" y="4.3">433</text><text class="lb" x="529.5" y="4.3">SC15-3330-P</text></g>
<g id="SC13-4111-P" transform="translate(0,659.16)"><use href="#cY" class="y1"/><use href="#cP" class="pSK"/><use href="#cA" class="a3"/><use href="#cS" class="sR"/><use href="#cM" class="m1"/><text class="mt" x="636.4" y="4.3">433</text><text class="lb" x="529.5" y="4.3">SC13-4111-P</text></g>
<g id="SC10-1348-P" transform="translate(0,664.53)"><use href="#cY" class="y2"/><use href="#cP" class="pSK"/><use href="#cA" class="a3"/><use href="#cS" class="sB"/><use href="#cM" class="m1"/><text class="mt" x="636.4" y="4.3">433</text><text class="lb" x="529.5" y="4.3">SC10-1348-P</text></g>
<g id="SC12-2952-P" transform="translate(0,669.9)"><use href="#cY" class="y3"/><use href="#cP" class="pAB"/><use href="#cA" class="a3"/><use href="#cS" class="sR"/><use href="#cM" class="m1"/><text class="mt" x="636.4" y="4.3">433</text><text class="lb" x="529.5" y="4.3">SC12-2952-P</text></g>
<g id="SC13-0779-P" transform="translate(0,675.27)"><use href="#cY" class="y3"/><use href="#cP" class="pQC"/><use href="#cA" class="a4"/><use href="#cS" class="sB"/><use href="#cM" class="m1"/><text class="mt" x="636.4" y="4.3">433</text><text class="lb" x="529.5" y="4.3">SC13-0779-P</text></g>
<g id="SC12-1999-P" transform="translate(0,680.64)"><use href="#cY" class="y3"/><use href="#cP" class="pQC"/><use href="#cA" class="a1"/><use href="#cS" class="sB"/><use href="#cM" class="m1"/><text class="mt" x="636.4" y="4.3">433</text><text class="lb" x="529.5" y="4.3">SC12-1999-P</text></g>
<g id="SC13-3951-P" transform="translate(0,686.01)"><use href="#cY" class="y1"/><use href="#cP" class="pMB"/><use href="#cA" class="a3"/><use href="#cS" class="sB"/><use href="#cM" class="m1"/><text class="mt" x="636.4" y="4.3">433</text><text class="lb" x="529.5" y="4.3">SC13-3951-P</text></g>
<g id="SC12-1049-P" transform="translate(0,691.38)"><use href="#cY" class="y3"/><use href="#cP" class="pON"/><use href="#cA" class="a4"/><use href="#cS" class="sC"/><use href="#cM" class="m1"/><text class="mt" x="636.4" y="4.3">433</text><text class="lb" x="529.5" y="4.3">SC12-1049-P</text></g>
<g id="SC12-0686-P" transform="translate(0,696.75)"><use href="#cY" class="y3"/><use href="#cP" class="pMB"/><use href="#cA" class="a3"/><use href="#cS" class="sB"/><use href="#cM" class="m1"/><text class="mt" x="636.4" y="4.3">433</text><text class="lb" x="529.5" y="4.3">SC12-0686-P</text></g>
<g id="SC10-0415-P" transform="translate(0,702.12)"><use href="#cY" class="y2"/><use href="#cP" class="pON"/><use href="#cA" class="a3"/><use href="#cS" class="sB"/><use href="#cM" class="m1"/><text class="mt" x="636.4" y="4.3">433</text><text class="lb" x="529.5" y="4.3">SC10-0415-P</text></g>
<g id="SC11-2665-P" transform="translate(0,707.49)"><use href="#cY" class="y1"/><use href="#cP" class="pQC"/><use href="#cA" class="a1"/><use href="#cS" class="sB"/><use href="#cM" class="m1"/><text class="mt" x="636.4" y="4.3">433</text><text class="lb" x="529.5" y="4.3">SC11-2665-P</text></g>
<g id="SC13-3942-P" transform="translate(0,712.86)"><use href="#cY" class="y1"/><use href="#cP" class="pQC"/><use href="#cA" class="a4"/><use href="#cS" class="sR"/><use href="#cM" class="m1"/><text class="mt" x="636.4" y="4.3">433</text><text class="lb" x="529.5" y="4.3">SC13-3942-P</text></g>
<g id="SC15-0240-P" transform="translate(0,718.23)"><use href="#cY" class="y4"/><use href="#cP" class="pNS"/><use href="#cA" class="a3"/><use href="#cS" class="sB"/><use href="#cM" class="m1"/><text class="mt" x="636.4" y="4.3">433</text><text class="lb" x="529.5" y="4.3">SC15-0240-P</text></g>
<g id="SC10-0680-P" transform="translate(0,723.6)"><use href="#cY" class="y1"/><use href="#cP" class="pQC"/><use href="#cA" class="a4"/><use href="#cS" class="sB"/><use href="#cM" class="m1"/><text class="mt" x="636.4" y="4.3">433</text><text class="lb" x="529.5" y="4.3">SC10-0680-P</text></g>
<g id="SC14-3180-P" transform="translate(0,728.97)"><use href="#cY" class="y4"/><use href="#cP" class="pQC"/><use href="#cA" class="a3"/><use href="#cS" class="sR"/><use href="#cM" class="m1"/><text class="mt" x="636.4" y="4.3">433</text><text class="lb" x="529.5" y="4.3">SC14-3180-P</text></g>
<g id="SC12-0355-P" transform="translate(0,734.34)"><use href="#cY" class="y3"/><use href="#cP" class="pQC"/><use href="#cA" class="a4"/><use href="#cS" class="sB"/><use href="#cM" class="m1"/><text class="mt" x="636.4" y="4.3">433</text><text class="lb" x="529.5" y="4.3">SC12-0355-P</text></g>
<g id="SC13-4277-P" transform="translate(0,739.71)"><use href="#cY" class="y1"/><use href="#cP" class="pON"/><use href="#cA" class="a4"/><use href="#cS" class="sR"/><use href="#cM" class="m2"/><text class="mt" x="636.4" y="4.3">5090</text><text class="lb" x="529.5" y="4.3">SC13-4277-P</text></g>
<g id="SC11-2176-P" transform="translate(0,745.08)"><use href="#cY" class="y3"/><use href="#cP" class="pNS"/><use href="#cA" class="a3"/><use href="#cS" class="sB"/><use href="#cM" class="m1"/><text class="mt" x="636.4" y="4.3">433</text><text class="lb" x="529.5" y="4.3">SC11-2176-P</text></g>
<g id="SC13-4859-P" transform="translate(0,750.45)"><use href="#cY" class="y4"/><use href="#cP" class="pNL"/><use href="#cA" class="a2"/><use href="#cS" class="sB"/><use href="#cM" class="m1"/><text class="mt" x="636.4" y="4.3">433</text><text class="lb" x="529.5" y="4.3">SC13-4859-P</text></g>
<g id="SC14-2194-P" transform="translate(0,755.82)"><use href="#cY" class="y4"/><use href="#cP" class="pBC"/><use href="#cA" class="a4"/><use href="#cS" class="sB"/><use href="#cM" class="m1"/><text class="mt" x="636.4" y="4.3">433</text><text class="lb" x="529.5" y="4.3">SC14-2194-P</text></g>
<g id="Reference-RG"><text class="lb" x="529.5" y="765.8">Reference RG</text></g>
</g>
<path d="M564.7 25.5V761.2H713.1M626.5 25.5V761.2M646.2 25.5V761.2" fill="none" stroke="#111" stroke-width="0.8"/>

<g id="legend">
<g id="legend-year">
<text class="lt" x="36" y="252.3">Year</text><path class="ul" d="M35 254.7H210"/>
<rect class="y1" x="35" y="255.7" width="42.7" height="9.5"/><text class="li" x="80.7" y="263.5">2005 - 2008</text>
<rect class="y2" x="35" y="266.6" width="42.7" height="9.5"/><text class="li" x="80.7" y="274.4">2009 - 2010</text>
<rect class="y3" x="35" y="277.5" width="42.7" height="9.5"/><text class="li" x="80.7" y="285.3">2011 - 2012</text>
<rect class="y4" x="35" y="288.4" width="42.7" height="9.5"/><text class="li" x="80.7" y="296.2">2013 - 2014</text>
<rect class="y5" x="35" y="299.3" width="42.7" height="9.5"/><text class="li" x="80.7" y="307.1">2015</text>
</g>
<g id="legend-prov">
<text class="lt" x="36" y="328.7">Province or Territory (Prov)</text><path class="ul" d="M35 331H210"/>
<rect class="pBC" x="35" y="332.3" width="42.7" height="9.5"/><text class="li" x="80.7" y="340.1">British Columbia</text>
<rect class="pAB" x="35" y="343.2" width="42.7" height="9.5"/><text class="li" x="80.7" y="351">Alberta</text>
<rect class="pSK" x="35" y="354.1" width="42.7" height="9.5"/><text class="li" x="80.7" y="361.9">Saskatchewan</text>
<rect class="pMB" x="35" y="365" width="42.7" height="9.5"/><text class="li" x="80.7" y="372.8">Manitoba</text>
<rect class="pON" x="35" y="375.9" width="42.7" height="9.5"/><text class="li" x="80.7" y="383.7">Ontario</text>
<rect class="pQC" x="35" y="386.8" width="42.7" height="9.5"/><text class="li" x="80.7" y="394.6">Quebec</text>
<rect class="pNS" x="35" y="397.7" width="42.7" height="9.5"/><text class="li" x="80.7" y="405.5">Nova Scotia</text>
<rect class="pNB" x="35" y="408.6" width="42.7" height="9.5"/><text class="li" x="80.7" y="416.4">New Brunswick</text>
<rect class="pPE" x="35" y="419.5" width="42.7" height="9.5"/><text class="li" x="80.7" y="427.3">Prince Edward Island</text>
<rect class="pNL" x="35" y="430.4" width="42.7" height="9.5"/><text class="li" x="80.7" y="438.2">Newfoundland and Labrador</text>
<rect class="pYT" x="35" y="441.3" width="42.7" height="9.5"/><text class="li" x="80.7" y="449.1">Yukon</text>
<rect class="pNT" x="35" y="452.2" width="42.7" height="9.5"/><text class="li" x="80.7" y="460">Northwest Territories</text>
</g>
<g id="legend-age">
<text class="lt" x="36" y="481.7">Age</text><path class="ul" d="M35 484H210"/>
<rect class="a1" x="35" y="485" width="42.7" height="9.5"/><text class="li" x="80.7" y="492.8">≤ 4 years of age</text>
<rect class="a2" x="35" y="495.9" width="42.7" height="9.5"/><text class="li" x="80.7" y="503.7">5 - 15 years of age</text>
<rect class="a3" x="35" y="506.8" width="42.7" height="9.5"/><text class="li" x="80.7" y="514.6">16 - 64 years of age</text>
<rect class="a4" x="35" y="517.7" width="42.7" height="9.5"/><text class="li" x="80.7" y="525.5">≥ 65 years of age</text>
</g>
<g id="legend-source">
<text class="lt" x="36" y="546.7">Clinical Source</text><path class="ul" d="M35 549.3H210"/>
<rect class="sB" x="35" y="550.3" width="42.7" height="9.5"/><text class="li" x="80.7" y="558.1">Blood</text>
<rect class="sR" x="35" y="561.2" width="42.7" height="9.5"/><text class="li" x="80.7" y="569">Non-Sterile Respiratory</text>
<rect class="sP" x="35" y="572.1" width="42.7" height="9.5"/><text class="li" x="80.7" y="579.9">Pleural Fluid</text>
<rect class="sC" x="35" y="583" width="42.7" height="9.5"/><text class="li" x="80.7" y="590.8">Cerebrospinal Fluid</text>
<rect class="sS" x="35" y="593.9" width="42.7" height="9.5"/><text class="li" x="80.7" y="601.7">Synovial Fluid</text>
<rect class="sO" x="35" y="604.8" width="42.7" height="9.5"/><text class="li" x="80.7" y="612.6">Other Sterile Site</text>
</g>
<g id="legend-mlst">
<text class="lt" x="36" y="634">Multi-Locus Sequence Types (MLST)</text><path class="ul" d="M35 636.3H210"/>
<rect class="m1" x="35" y="637.3" width="42.7" height="9.5"/><text class="li" x="80.7" y="645.1">ST433</text>
<rect class="m2" x="35" y="648.2" width="42.7" height="9.5"/><text class="li" x="80.7" y="656">Single Locus Variant of ST433</text>
<rect class="m3" x="35" y="659.1" width="42.7" height="9.5"/><text class="li" x="80.7" y="666.9">Singleton</text>
</g>
<g id="legend-amr">
<text class="lt" x="36" y="688.3">Antimicrobial Susceptibility</text><path class="ul" d="M35 690.7H210"/>
<rect class="rR" x="35" y="691.7" width="42.7" height="9.5"/><text class="li" x="80.7" y="699.5">Resistant</text>
<rect class="rI" x="35" y="702.6" width="42.7" height="9.5"/><text class="li" x="80.7" y="710.4">Intermediate</text>
<rect class="rS" x="35" y="713.5" width="42.7" height="9.5"/><text class="li" x="80.7" y="721.3">Susceptible</text>
</g>
</g>

<g id="scale-bar">
<path d="M236 787.7H291.7" stroke="#111" stroke-width="1"/>
<text style="font-family:'Liberation Sans',Arial,sans-serif;font-size:6.5px;fill:#333;text-anchor:middle" x="263.8" y="798.5">0.04</text>
</g>
</svg>
